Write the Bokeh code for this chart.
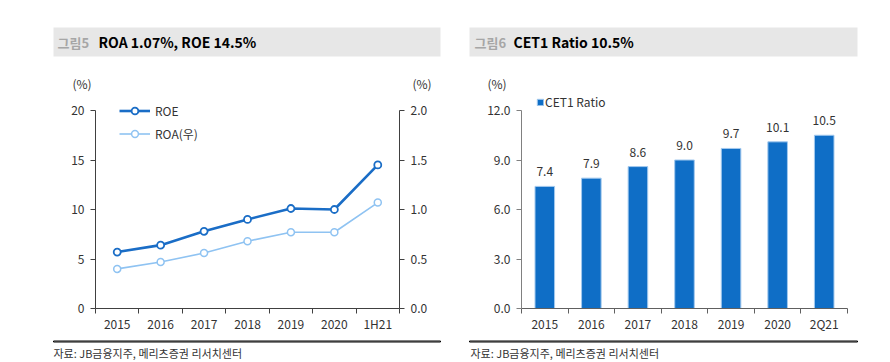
from bokeh.plotting import figure
from bokeh.models import (Range1d, LinearAxis, FixedTicker, Label, BoxAnnotation, Legend,
                          LegendItem, ColumnDataSource, LabelSet, NumeralTickFormatter, Plot)
from bokeh.core.properties import value
from bokeh.layouts import row, column
from bokeh.embed import file_html
from bokeh.resources import INLINE

# ---------------- data ----------------
years_left = ["2015", "2016", "2017", "2018", "2019", "2020", "1H21"]
roe = [5.7, 6.4, 7.8, 9.0, 10.1, 10.0, 14.5]
roa = [0.40, 0.47, 0.56, 0.68, 0.77, 0.77, 1.07]

years_right = ["2015", "2016", "2017", "2018", "2019", "2020", "2Q21"]
cet1 = [7.4, 7.9, 8.6, 9.0, 9.7, 10.1, 10.5]

left_ticks = [0, 5, 10, 15, 20]
right_ticks = [0, 0.5, 1.0, 1.5, 2.0]
cet_ticks = [0, 3, 6, 9, 12]

title_left = ("그림5", "ROA 1.07%, ROE 14.5%")
title_right = ("그림6", "CET1 Ratio 10.5%")
source_text = "자료: JB금융지주, 메리츠증권 리서치센터"

FONT = "Noto Sans CJK KR"
TXT = "#333333"
ROE_C = "#1a6dc6"
ROA_C = "#8fc3f2"
BAR_C = "#0f6ec6"
BAR_EDGE = "#a3c9ee"
BAR_GRAY = "#e7e7e7"

W_L, W_R = 462, 426
TOP_H, CHART_H, BOT_H = 92, 246, 23
PLOT_TOP_PAD = 18       # px between frame top and the top tick
PLOT_H = 198            # px from 0 to top tick
BOTTOM_BORDER = CHART_H - PLOT_TOP_PAD - PLOT_H

HAS_ALIGN = "frame_align" in Plot.properties()


def base(p):
    p.outline_line_color = None
    p.xgrid.visible = False
    p.ygrid.visible = False
    p.background_fill_color = "white"
    p.border_fill_color = "white"
    if HAS_ALIGN:
        p.frame_align = False
    return p


def blank(w, h):
    p = figure(width=w, height=h, x_range=Range1d(0, w), y_range=Range1d(h, 0),
               x_axis_type=None, y_axis_type=None, output_backend="svg",
               toolbar_location=None, min_border=0)
    return base(p)


def lbl(p, x, y, text, size="12px", color=TXT, bold=False, align="left"):
    p.add_layout(Label(x=x, y=y, text=text, text_font=FONT, text_font_size=size,
                       text_color=color, text_font_style="bold" if bold else "normal",
                       text_align=align, text_baseline="middle"))


def box(p, l, r, t, b, color, level="underlay"):
    p.add_layout(BoxAnnotation(left=l, right=r, bottom=b, top=t, fill_color=color,
                               fill_alpha=1.0, line_color=None, level=level))


def rule(p, l, r, y, color):
    p.add_layout(BoxAnnotation(left=l, right=r, bottom=y + 0.5, top=y - 0.5,
                               fill_color=None, fill_alpha=0, line_color=color,
                               line_width=1, line_alpha=1.0, level="annotation"))


def style_x(p, labels, axis_color):
    n = len(labels)
    centers = [i + 0.5 for i in range(n)]
    ax = p.xaxis[0]
    ax.ticker = FixedTicker(ticks=centers, minor_ticks=list(range(n + 1)))
    ax.major_label_overrides = {c: lab for c, lab in zip(centers, labels)}
    ax.major_tick_out = 0
    ax.major_tick_in = 0
    ax.minor_tick_out = 5
    ax.minor_tick_in = 0
    ax.minor_tick_line_color = axis_color
    ax.axis_line_color = axis_color
    ax.major_label_standoff = 1
    ax.major_label_text_font = FONT
    ax.major_label_text_font_size = "12px"
    ax.major_label_text_color = TXT


def style_y(ax, axis_color, bounds):
    ax.bounds = bounds
    ax.major_tick_out = 5
    ax.major_tick_in = 0
    ax.minor_tick_out = 0
    ax.minor_tick_in = 0
    ax.major_tick_line_color = axis_color
    ax.axis_line_color = axis_color
    ax.major_label_standoff = 6
    ax.major_label_text_font = FONT
    ax.major_label_text_font_size = "12px"
    ax.major_label_text_color = TXT


def chart(w, n, ymax, left, right):
    top = ymax * (PLOT_H + PLOT_TOP_PAD) / PLOT_H
    p = figure(width=w, height=CHART_H, x_range=Range1d(0, n), y_range=Range1d(0, top),
               output_backend="svg", toolbar_location=None, min_border=0,
               min_border_left=left, min_border_right=right, min_border_top=0,
               min_border_bottom=BOTTOM_BORDER)
    return base(p)


# ---------------- left panel ----------------
n1 = len(years_left)
src1 = ColumnDataSource(dict(x=[i + 0.5 for i in range(n1)], roe=roe, roa=roa))

p1 = chart(W_L, n1, left_ticks[-1], 95, W_L - 399)
p1.extra_y_ranges = {"roa": Range1d(0, right_ticks[-1] * (PLOT_H + PLOT_TOP_PAD) / PLOT_H)}

l_roa = p1.line("x", "roa", source=src1, y_range_name="roa", line_color=ROA_C, line_width=1.6)
c_roa = p1.scatter("x", "roa", source=src1, y_range_name="roa", size=7, fill_color="white",
                   line_color=ROA_C, line_width=1.5)
l_roe = p1.line("x", "roe", source=src1, line_color=ROE_C, line_width=2.6)
c_roe = p1.scatter("x", "roe", source=src1, size=7, fill_color="white",
                   line_color=ROE_C, line_width=1.8)

style_x(p1, years_left, "#404040")
p1.yaxis[0].ticker = FixedTicker(ticks=left_ticks)
style_y(p1.yaxis[0], "#404040", (left_ticks[0], left_ticks[-1]))

ax_r = LinearAxis(y_range_name="roa", ticker=FixedTicker(ticks=right_ticks),
                  formatter=NumeralTickFormatter(format="0.0"))
style_y(ax_r, "#404040", (right_ticks[0], right_ticks[-1]))
p1.add_layout(ax_r, "right")

leg1 = Legend(items=[LegendItem(label="ROE", renderers=[l_roe, c_roe]),
                     LegendItem(label="ROA(우)", renderers=[l_roa, c_roa])],
              location=(24, 166), orientation="vertical",
              glyph_width=31, glyph_height=17, label_height=17, spacing=6,
              label_standoff=5, padding=0, margin=0,
              border_line_color=None, background_fill_alpha=0,
              label_text_font=FONT, label_text_font_size="12px", label_text_color=TXT)
p1.add_layout(leg1)

t1 = blank(W_L, TOP_H)
box(t1, 53, 440, 27, 56, BAR_GRAY)
lbl(t1, 57, 41.5, title_left[0], size="13px", color="#a6a6a6", bold=True)
lbl(t1, 98, 41.5, title_left[1], size="14px", color="#000000", bold=True)
lbl(t1, 72, 83, "(%)")
lbl(t1, 412, 83, "(%)")

b1 = blank(W_L, BOT_H)
rule(b1, 53, 440, 3, "#000000")
lbl(b1, 53, 14, source_text, size="11px")

# ---------------- right panel ----------------
n2 = len(years_right)
src2 = ColumnDataSource(dict(x=[i + 0.5 for i in range(n2)], v=cet1,
                             t=[f"{v:.1f}" for v in cet1]))

p2 = chart(W_R, n2, cet_ticks[-1], 521 - W_L, W_L + W_R - 847)

bars = p2.vbar(x="x", top="v", width=0.42, source=src2, fill_color=BAR_C,
               line_color=BAR_EDGE, line_width=1)
p2.add_layout(LabelSet(x="x", y="v", text="t", source=src2, y_offset=10,
                       text_align="center", text_baseline="bottom",
                       text_font=value(FONT), text_font_size=value("12px"),
                       text_color=TXT))

style_x(p2, years_right, "#606060")
p2.yaxis[0].ticker = FixedTicker(ticks=cet_ticks)
p2.yaxis[0].formatter = NumeralTickFormatter(format="0.0")
style_y(p2.yaxis[0], "#808080", (cet_ticks[0], cet_ticks[-1]))

leg2 = Legend(items=[LegendItem(label="CET1 Ratio", renderers=[bars])],
              location=(15, 198), orientation="vertical",
              glyph_width=8, glyph_height=8, label_height=8, spacing=0,
              label_standoff=1, padding=0, margin=0,
              border_line_color=None, background_fill_alpha=0,
              label_text_font=FONT, label_text_font_size="12px", label_text_color=TXT)
p2.add_layout(leg2)

t2 = blank(W_R, TOP_H)
box(t2, 469 - W_L, 857 - W_L, 27, 56, BAR_GRAY)
lbl(t2, 474 - W_L, 41.5, title_right[0], size="13px", color="#a6a6a6", bold=True)
lbl(t2, 513 - W_L, 41.5, title_right[1], size="14px", color="#000000", bold=True)
lbl(t2, 487 - W_L, 83, "(%)")

b2 = blank(W_R, BOT_H)
rule(b2, 469 - W_L, 857 - W_L, 3, "#000000")
lbl(b2, 470 - W_L, 14, source_text, size="11px")

layout = row(column(t1, p1, b1, spacing=0), column(t2, p2, b2, spacing=0), spacing=0)
open("out.html", "w").write(file_html(layout, INLINE))
